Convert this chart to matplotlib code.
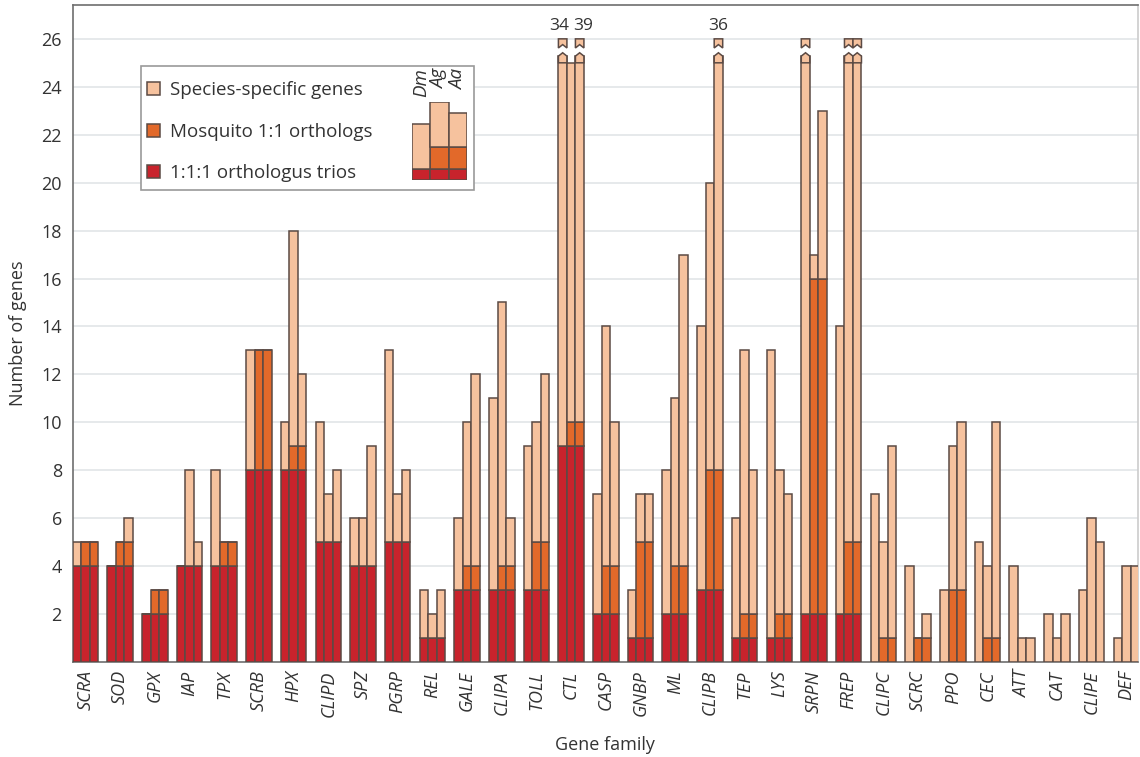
import matplotlib
matplotlib.use("Agg")
import matplotlib.pyplot as plt
from matplotlib.patches import Patch, Rectangle, Polygon
import numpy as np

plt.rcParams["font.family"] = ["Open Sans", "DejaVu Sans"]

families = ["SCRA", "SOD", "GPX", "IAP", "TPX", "SCRB", "HPX", "CLIPD", "SPZ", "PGRP",
            "REL", "GALE", "CLIPA", "TOLL", "CTL", "CASP", "GNBP", "ML", "CLIPB", "TEP",
            "LYS", "SRPN", "FREP", "CLIPC", "SCRC", "PPO", "CEC", "ATT", "CAT", "CLIPE", "DEF"]
# 1:1:1 orthologous trios (same in all three species)
trio = [4, 4, 2, 4, 4, 8, 8, 5, 4, 5, 1, 3, 3, 3, 9, 2, 1, 2, 3, 1, 1, 2, 2, 0, 0, 0, 0, 0, 0, 0, 0]
# mosquito 1:1 orthologs (Ag and Aa only)
mosq = [1, 1, 1, 0, 1, 5, 1, 0, 0, 0, 0, 1, 1, 2, 1, 2, 4, 2, 5, 1, 1, 14, 3, 1, 1, 3, 1, 0, 0, 0, 0]
# total genes per species
dm = [5, 4, 2, 4, 8, 13, 10, 10, 6, 13, 3, 6, 11, 9, 34, 7, 3, 8, 14, 6, 13, 29, 14, 7, 4, 3, 5, 4, 2, 3, 1]
ag = [5, 5, 3, 8, 5, 13, 18, 7, 6, 7, 2, 10, 15, 10, 25, 14, 7, 11, 20, 13, 8, 17, 59, 5, 1, 9, 4, 1, 1, 6, 4]
aa = [5, 6, 3, 5, 5, 13, 12, 8, 9, 8, 3, 12, 6, 12, 39, 10, 7, 17, 36, 8, 7, 23, 37, 9, 2, 10, 10, 1, 2, 5, 4]
# totals written above broken bars
labelled = {("CTL", 0): 34, ("CTL", 2): 39, ("CLIPB", 2): 36}

# legend illustration
mini_trio = 1
mini_mosq = 2
mini_total = [5, 7, 6]
species = ["Dm", "Ag", "Aa"]

c_trio = "#c8232c"
c_mosq = "#e2692a"
c_spec = "#f6c29e"
edge = "#5b4a44"
txt_c = "#333333"
cap = 26

fig = plt.figure(figsize=(11.4, 7.57), dpi=100)
ax = fig.add_axes([0.064, 0.1255, 0.934, 0.8675])

x = np.arange(len(families))
w = 0.245
offsets = [-w, 0, w]

for k, totals in enumerate([dm, ag, aa]):
    xs = x + offsets[k]
    t = np.array(trio, float)
    m = np.array(mosq, float) if k > 0 else np.zeros(len(x))
    tot = np.array(totals, float)
    spec = tot - t - m
    broken = tot > cap
    spec_drawn = np.where(broken, 25.28 - t - m, spec)
    kw = dict(width=w, edgecolor=edge, linewidth=1.1, zorder=3)
    ax.bar(xs, t, color=c_trio, **kw)
    ax.bar(xs, m, bottom=t, color=c_mosq, **kw)
    ax.bar(xs, spec_drawn, bottom=t + m, color=c_spec, **kw)
    # broken bars: peaked top below, notched cap above
    for i in np.where(broken)[0]:
        l, r, c = xs[i] - w / 2, xs[i] + w / 2, xs[i]
        ax.add_patch(Polygon([(l, 25.0), (l, 25.28), (c, 25.42), (r, 25.28), (r, 25.0)],
                             closed=True, facecolor=c_spec, edgecolor=edge,
                             linewidth=1.1, zorder=4))
        ax.add_patch(Polygon([(l, 25.62), (c, 25.76), (r, 25.62), (r, 26.0), (l, 26.0)],
                             closed=True, facecolor=c_spec, edgecolor=edge,
                             linewidth=1.1, zorder=4))
        key = (families[i], k)
        if key in labelled:
            pair = sum((families[i], j) in labelled for j in range(3)) > 1
            dx = (k - 1) * 0.1 if pair else 0
            ax.text(xs[i] + dx, 26.2, str(labelled[key]), ha="center", va="bottom",
                    fontsize=12.5, color=txt_c)

ax.set_xlim(-0.36, len(families) - 1 + 0.33)
ax.set_ylim(0, 27.4)
ax.set_yticks(np.arange(2, 27, 2))
ax.set_xticks(x)
ax.set_xticklabels(families, rotation=90, fontstyle="italic", fontsize=13)
ax.tick_params(axis="both", length=0, labelsize=13, colors=txt_c)
ax.tick_params(axis="y", pad=8)
ax.tick_params(axis="x", pad=6)
ax.yaxis.grid(True, color="#e2e5e8", linewidth=1.2, zorder=0)
ax.set_axisbelow(True)
for s in ax.spines.values():
    s.set_color("#6e6e6e")
    s.set_linewidth(1.2)
ax.spines["right"].set_color("#cccccc")

ax.set_ylabel("Number of genes", fontsize=13, color=txt_c, labelpad=10)
ax.set_xlabel("Gene family", fontsize=13, color=txt_c, labelpad=14)

# legend box
ax.add_patch(Rectangle((0.0638, 0.7184), 0.3127, 0.1887, transform=ax.transAxes,
                       facecolor="white", edgecolor="#9a9a9a", linewidth=1.2, zorder=5))
handles = [Patch(facecolor=c_spec, edgecolor=edge, linewidth=1.1),
           Patch(facecolor=c_mosq, edgecolor=edge, linewidth=1.1),
           Patch(facecolor=c_trio, edgecolor=edge, linewidth=1.1)]
labels = ["Species-specific genes", "Mosquito 1:1 orthologs", "1:1:1 orthologus trios"]
leg = ax.legend(handles, labels, loc="upper left", bbox_to_anchor=(0.0695, 0.885),
                frameon=False, fontsize=13.5, handlelength=0.7, handleheight=0.7,
                handletextpad=0.55, labelspacing=1.27, borderpad=0, borderaxespad=0)
leg.set_zorder(6)
for txt in leg.get_texts():
    txt.set_color(txt_c)

mini = fig.add_axes([412 / 1140, 1 - 180 / 757, 55 / 1140, 78 / 757])
mini.set_zorder(7)
mx = np.arange(3)
mt = np.full(3, mini_trio)
mm = np.array([0, mini_mosq, mini_mosq])
ms = np.array(mini_total) - mt - mm
mkw = dict(width=1.0, edgecolor=edge, linewidth=1.1)
mini.bar(mx, mt, color=c_trio, **mkw)
mini.bar(mx, mm, bottom=mt, color=c_mosq, **mkw)
mini.bar(mx, ms, bottom=mt + mm, color=c_spec, **mkw)
mini.set_xlim(-0.5, 2.5)
mini.set_ylim(0, max(mini_total))
mini.axis("off")
for i, sp in enumerate(species):
    mini.text(i, 10.0, sp, rotation=90, ha="center", va="top",
              fontstyle="italic", fontsize=13.5, color=txt_c, clip_on=False)

fig.savefig("out.png", dpi=100)
